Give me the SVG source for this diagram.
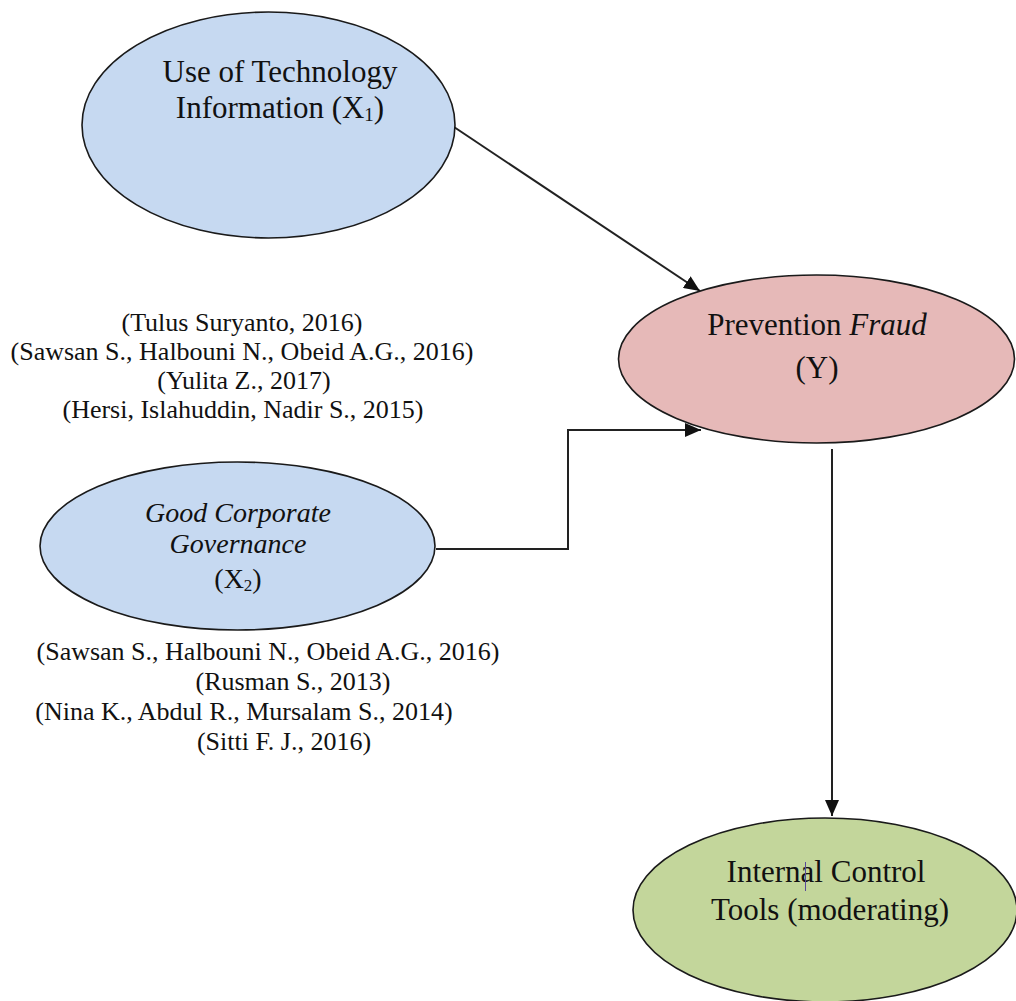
<svg xmlns="http://www.w3.org/2000/svg" width="1016" height="1001" viewBox="0 0 1016 1001">
<style>
.node{stroke:#1a1a1a;stroke-width:1.6}
.t{font-family:"Liberation Serif","Times New Roman",serif;fill:#111;text-anchor:middle}
.n{font-size:31px}
.g{font-size:28px;font-style:italic}
.c{font-size:26px}
.conn{fill:none;stroke:#222;stroke-width:2}
</style>
<defs>
<marker id="ah" markerUnits="userSpaceOnUse" markerWidth="18" markerHeight="14" refX="16" refY="7" orient="auto">
<path d="M0,0 L16,7 L0,14 Z" fill="#111"/>
</marker>
</defs>
<rect width="1016" height="1001" fill="#fff"/>
<g id="connectors">
<line class="conn" x1="454" y1="127" x2="700" y2="291" marker-end="url(#ah)"/>
<polyline class="conn" points="436,549 568,549 568,430 701,430" marker-end="url(#ah)"/>
<line class="conn" x1="832" y1="449" x2="832" y2="816" marker-end="url(#ah)"/>
</g>
<g id="node-x1">
<ellipse class="node" cx="268.5" cy="125" rx="186.5" ry="113" fill="#c6d9f1"/>
<text class="t n" x="280" y="82">Use of Technology</text>
<text class="t n" x="280" y="118">Information (X<tspan font-size="19" dy="3">1</tspan><tspan dy="-3">)</tspan></text>
</g>
<g id="node-y">
<ellipse class="node" cx="816.5" cy="359" rx="198" ry="84" fill="#e6b9b8"/>
<text class="t n" x="817" y="335">Prevention <tspan font-style="italic">Fraud</tspan></text>
<text class="t n" x="817" y="378">(Y)</text>
</g>
<g id="node-x2">
<ellipse class="node" cx="237.5" cy="546" rx="197.5" ry="84" fill="#c6d9f1"/>
<text class="t g" x="238" y="522">Good Corporate</text>
<text class="t g" x="238" y="553">Governance</text>
<text class="t" font-size="28" x="238" y="588">(X<tspan font-size="17" dy="3">2</tspan><tspan dy="-3">)</tspan></text>
</g>
<g id="node-moderating">
<ellipse class="node" cx="825" cy="910" rx="192" ry="92" fill="#c3d69b"/>
<text class="t n" x="826" y="882">Internal Control</text>
<text class="t n" x="830" y="920">Tools (moderating)</text>
<line x1="805.5" y1="862" x2="805.5" y2="891" stroke="#5a4a9a" stroke-width="1"/>
</g>
<g id="citations-x1">
<text class="t c" x="242" y="331">(Tulus Suryanto, 2016)</text>
<text class="t c" x="242" y="360">(Sawsan S., Halbouni N., Obeid A.G., 2016)</text>
<text class="t c" x="244" y="389">(Yulita Z., 2017)</text>
<text class="t c" x="243" y="418">(Hersi, Islahuddin, Nadir S., 2015)</text>
</g>
<g id="citations-x2">
<text class="t c" x="268" y="660">(Sawsan S., Halbouni N., Obeid A.G., 2016)</text>
<text class="t c" x="293" y="690">(Rusman S., 2013)</text>
<text class="t c" x="244" y="720">(Nina K., Abdul R., Mursalam S., 2014)</text>
<text class="t c" x="284" y="750">(Sitti F. J., 2016)</text>
</g>
</svg>
